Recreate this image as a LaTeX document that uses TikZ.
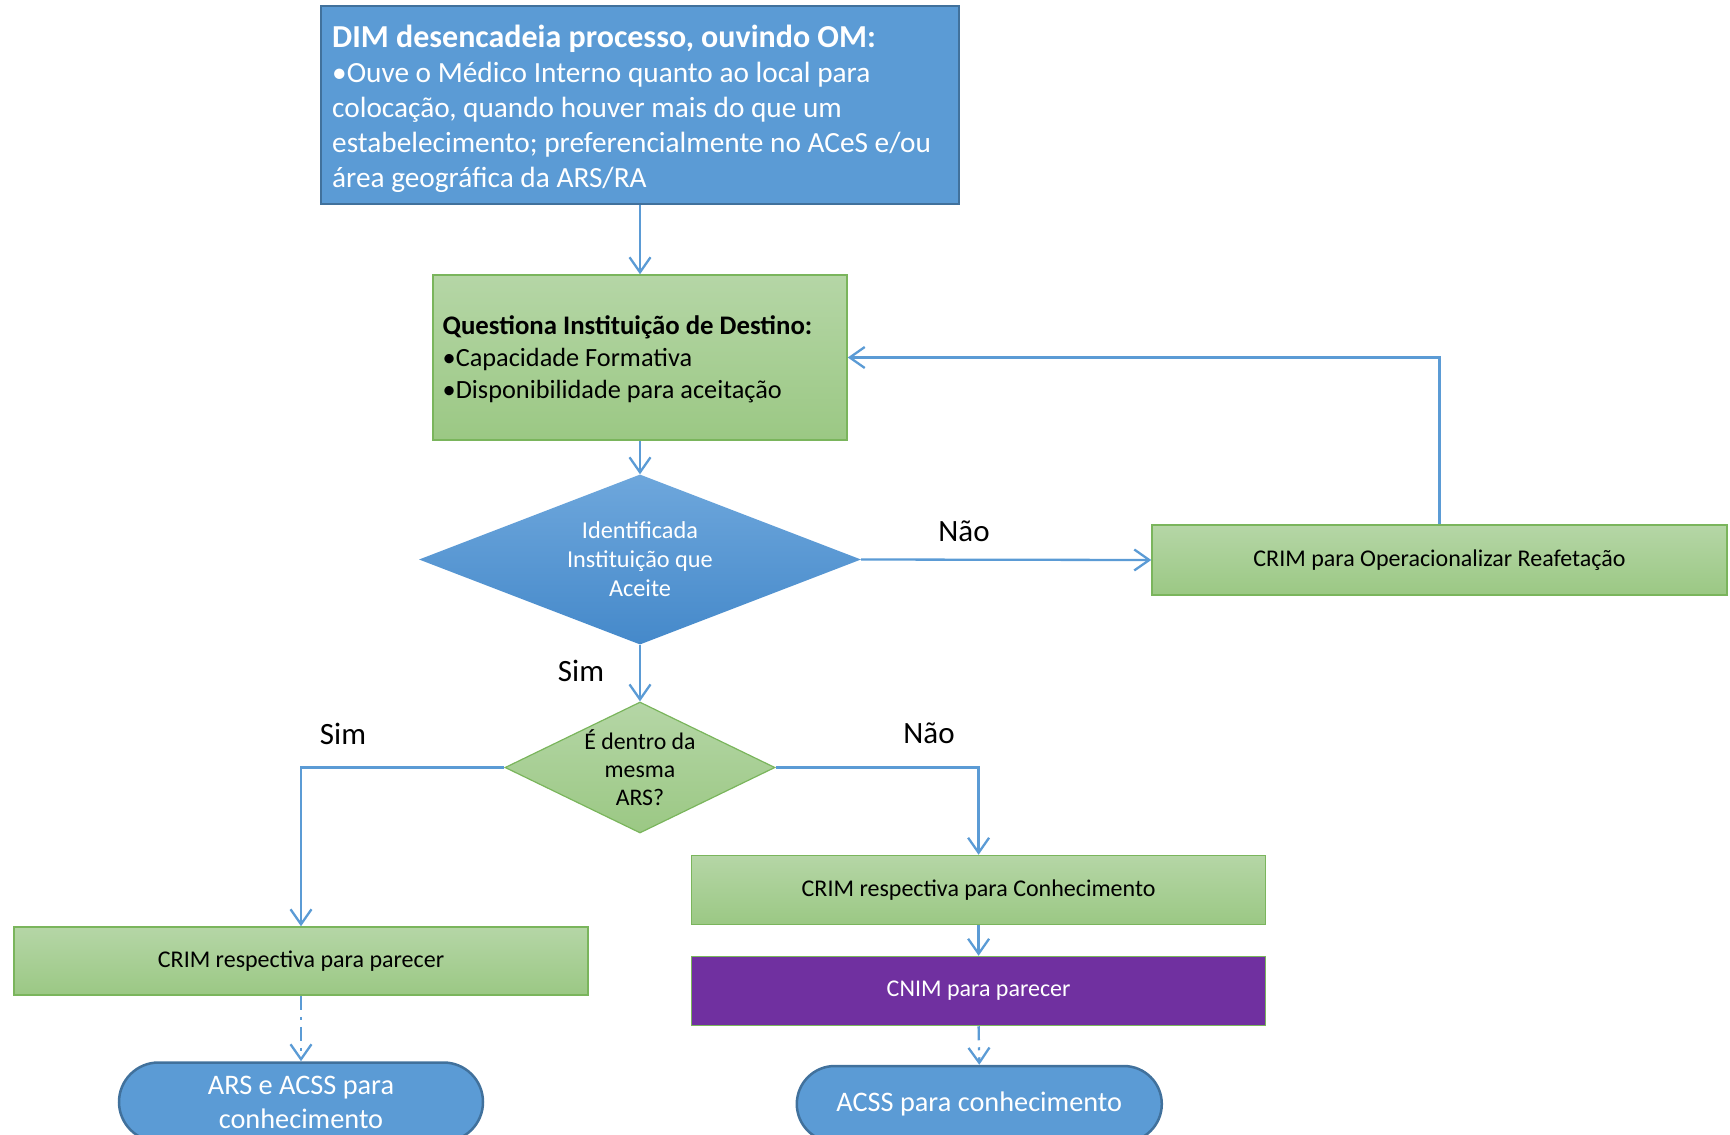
\documentclass[tikz,border=0pt]{standalone}
\usepackage{fontspec}
\setmainfont{Carlito}
\usetikzlibrary{arrows.meta,shapes.geometric,shapes.misc}
\definecolor{bluefill}{HTML}{5B9BD5}
\definecolor{blueedge}{HTML}{41719C}
\definecolor{greentop}{HTML}{B5D6A6}
\definecolor{greenbot}{HTML}{9BC884}
\definecolor{greenedge}{HTML}{7AB55C}
\definecolor{linkblue}{HTML}{5B9BD5}
\definecolor{purplefill}{HTML}{7030A0}
\definecolor{diatop}{HTML}{6EA7DC}
\definecolor{diabot}{HTML}{4589CA}
\newcommand{\fs}[2]{\fontsize{#1}{#2}\selectfont}

\begin{document}
\begin{tikzpicture}[x=1pt,y=-1pt,
  topbox/.style={draw=blueedge, line width=2.5pt, fill=bluefill,
    rectangle, inner sep=0pt},
  greenbox/.style={draw=greenedge, line width=1.5pt, top color=greentop,
    bottom color=greenbot, rectangle, inner sep=0pt, align=center,
    font=\fs{24}{28}},
  purplebox/.style={draw=greenedge, line width=1.5pt, fill=purplefill,
    text=white, rectangle, inner sep=0pt, align=center, font=\fs{24}{28}},
  bluediamond/.style={diamond, inner sep=0pt, top color=diatop,
    bottom color=diabot},
  greendiamond/.style={diamond, inner sep=0pt, draw=greenedge, line width=1.2pt,
    top color=greentop, bottom color=greenbot},
  innertext/.style={inner sep=0pt, align=center},
  listtext/.style={inner sep=0pt, align=left, anchor=west},
  terminal/.style={rounded rectangle, inner sep=0pt, draw=blueedge,
    line width=2.5pt, fill=bluefill, text=white, align=center,
    font=\fs{28.3}{34}},
  flow/.style={draw=linkblue, line width=2.3pt,
    -{Straight Barb[length=15pt,width=21pt,line width=2.3pt]}},
  dashflow/.style={flow, dash pattern=on 14pt off 7pt on 3pt off 7pt},
  answer/.style={font=\fs{31}{36}, inner sep=0pt}
]
\useasboundingbox (0,0) rectangle (1730,1135);

% opening step
\node[topbox, minimum width=638pt, minimum height=198pt] (dim) at (640,105) {};
\node[listtext, text=white, font=\fs{29.3}{35}] (dimtxt) at (332,108.5)
  {\textbf{\fs{32}{35}DIM desencadeia processo, ouvindo OM:}\\
   \textbullet Ouve o Médico Interno quanto ao local para\\
   colocação, quando houver mais do que um\\
   estabelecimento; preferencialmente no ACeS e/ou\\
   área geográfica da ARS/RA};

% enquiry to the receiving institution
\node[greenbox, minimum width=414pt, minimum height=165pt] (quest) at (640,357.5) {};
\node[listtext, font=\fs{26.3}{32}] (questtxt) at (442.5,359.5)
  {\textbf{\fs{26.8}{32}Questiona Instituição de Destino:}\\
   \textbullet Capacidade Formativa\\
   \textbullet Disponibilidade para aceitação};

% decision shapes, with their texts set on top
\node[bluediamond, minimum width=442pt, minimum height=170pt] (ident) at (640,559.5) {};
\node[innertext, text=white, font=\fs{24.3}{29}] (identtxt) at (ident.center)
  {Identificada\\Instituição que\\Aceite};

\node[greenbox, minimum width=575pt, minimum height=70pt] (reaf) at (1439.5,560)
  {CRIM para Operacionalizar Reafetação};

\node[greendiamond, minimum width=270pt, minimum height=131pt] (mesma) at (640,767.5) {};
\node[innertext, font=\fs{23.8}{28}] (mesmatxt) at (mesma.center)
  {É dentro da\\mesma\\ARS?};

\node[greenbox, minimum width=574pt, minimum height=69pt] (crimc) at (978.6,890)
  {CRIM respectiva para Conhecimento};

\node[purplebox, minimum width=574pt, minimum height=69pt] (cnim) at (978.6,991)
  {CNIM para parecer};

\node[greenbox, minimum width=574pt, minimum height=68pt] (crimp) at (301,961)
  {CRIM respectiva para parecer};

\node[terminal, minimum width=364pt, minimum height=79pt] (ars) at (301,1102)
  {ARS e ACSS para\\conhecimento};

\node[terminal, minimum width=365pt, minimum height=76pt] (acss) at (979.3,1104)
  {ACSS para conhecimento};

% connectors
\draw[flow] (dim.south) -- (quest.north);
\draw[flow] (quest.south) -- (ident.north);
\draw[flow] (ident.east) -- (reaf.west);
\draw[flow] (reaf.north) |- (quest.east);
\draw[flow] (ident.south) -- (mesma.north);
\draw[flow] (mesma.west) -| (crimp.north);
\draw[flow] (mesma.east) -| (crimc.north);
\draw[flow] (crimc.south) -- (cnim.north);
\draw[dashflow] (crimp.south) -- (ars.north);
\draw[dashflow] (cnim.south) -- (acss.north);

% answer labels
\node[answer] (naoA) at (964,531) {Não};
\node[answer] (simA) at (581,671) {Sim};
\node[answer] (simB) at (343,734) {Sim};
\node[answer] (naoB) at (929,733) {Não};
\end{tikzpicture}
\end{document}
